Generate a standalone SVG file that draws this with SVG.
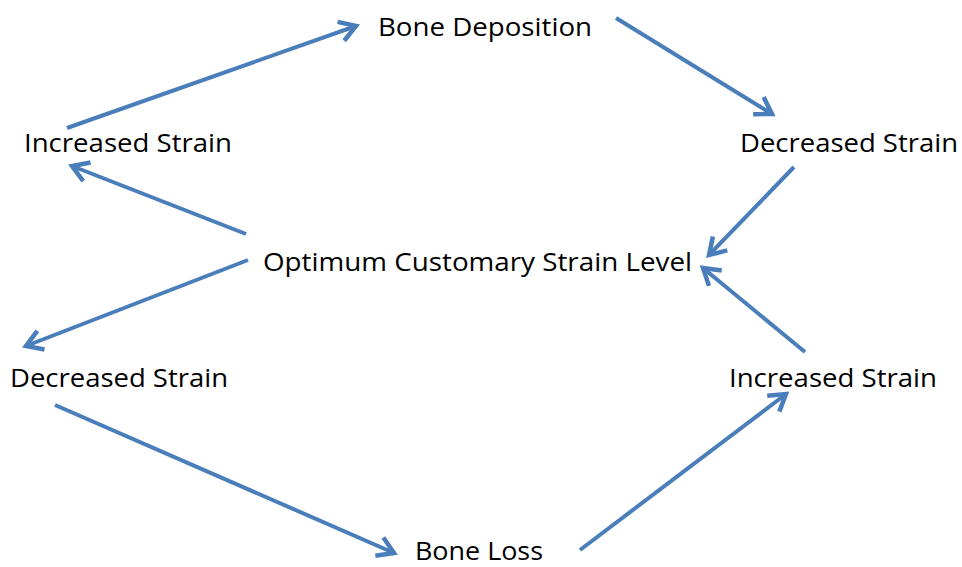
<svg xmlns="http://www.w3.org/2000/svg" width="962" height="567" viewBox="0 0 962 567">
<defs>
<style>
.lbl{font-family:"Open Sans","Liberation Sans",sans-serif;font-size:26px;fill:#000;}
.c{stroke:#4A7EBB;stroke-width:4;fill:none;marker-end:url(#ah);}
</style>
<marker id="ah" markerUnits="userSpaceOnUse" markerWidth="30" markerHeight="30" viewBox="-20 -15 30 30" refX="0" refY="0" orient="auto">
<path d="M-16,-10 L0,0 L-16,10" fill="none" stroke="#4A7EBB" stroke-width="4.5" stroke-linejoin="miter"/>
</marker>
</defs>
<rect width="962" height="567" fill="#fff"/>
<g id="connectors">
<line class="c" x1="67" y1="128" x2="356" y2="26"/>
<line class="c" x1="616" y1="18" x2="772" y2="114"/>
<line class="c" x1="794" y1="167" x2="709" y2="255"/>
<line class="c" x1="246" y1="234" x2="72" y2="166"/>
<line class="c" x1="248" y1="260" x2="26" y2="346"/>
<line class="c" x1="55" y1="405" x2="394" y2="553"/>
<line class="c" x1="580" y1="550" x2="786" y2="394"/>
<line class="c" x1="805" y1="352" x2="703" y2="268"/>
</g>
<g id="bone-deposition"><text class="lbl" x="378" y="36" textLength="214" lengthAdjust="spacingAndGlyphs">Bone Deposition</text></g>
<g id="increased-strain-left"><text class="lbl" x="24" y="152" textLength="208" lengthAdjust="spacingAndGlyphs">Increased Strain</text></g>
<g id="decreased-strain-right"><text class="lbl" x="740" y="152" textLength="218" lengthAdjust="spacingAndGlyphs">Decreased Strain</text></g>
<g id="optimum"><text class="lbl" x="263" y="271" textLength="429" lengthAdjust="spacingAndGlyphs">Optimum Customary Strain Level</text></g>
<g id="decreased-strain-left"><text class="lbl" x="10" y="387" textLength="218" lengthAdjust="spacingAndGlyphs">Decreased Strain</text></g>
<g id="increased-strain-right"><text class="lbl" x="729" y="387" textLength="208" lengthAdjust="spacingAndGlyphs">Increased Strain</text></g>
<g id="bone-loss"><text class="lbl" x="415" y="560" style="font-size:25px" textLength="128" lengthAdjust="spacingAndGlyphs">Bone Loss</text></g>
</svg>
